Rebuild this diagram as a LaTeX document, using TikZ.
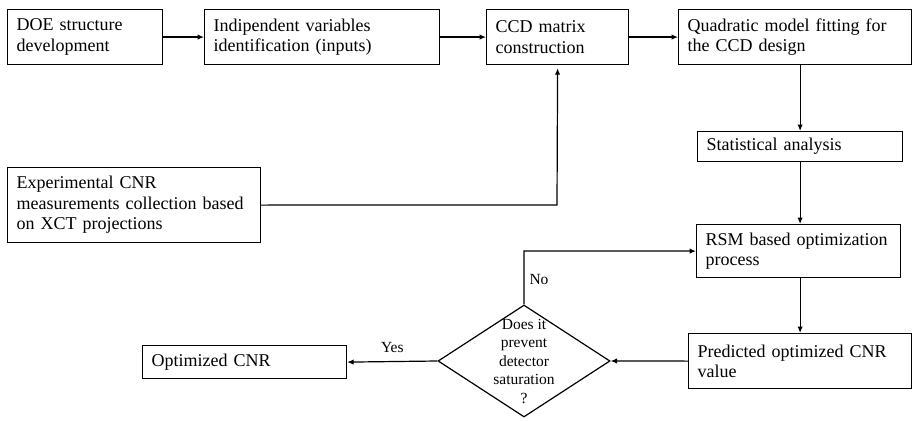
\documentclass[tikz,border=0pt]{standalone}
\usepackage{fontspec}
\setmainfont{Liberation Serif}
\usetikzlibrary{arrows.meta,shapes.geometric}
\tikzset{
  box/.style={draw, line width=1.2pt, rectangle, inner xsep=9pt, inner ysep=0pt,
    align=left, font=\fontsize{18}{20.5}\selectfont, anchor=north west},
  conn/.style={line width=1.2pt, -{Latex[length=6.5pt,width=5.5pt]}},
  lbl/.style={font=\fontsize{15.5}{18}\selectfont, inner sep=0pt}
}
\begin{document}
\begin{tikzpicture}[x=1pt,y=-1pt]
\useasboundingbox (0,0) rectangle (912,420);
\node[box, text width=137pt, minimum width=155pt, minimum height=55pt] (doe) at (7,9) {DOE structure\\development};
\node[box, text width=217pt, minimum width=235pt, minimum height=55pt] (ind) at (204,9) {Indipendent variables\\identification (inputs)};
\node[box, text width=124pt, minimum width=142pt, minimum height=55pt] (ccd) at (486,9) {CCD matrix\\construction};
\node[box, text width=215pt, minimum width=233pt, minimum height=55pt] (quad) at (678,9) {Quadratic model fitting for\\the CCD design};
\node[box, text width=187pt, minimum width=205pt, minimum height=30pt] (stat) at (697,131) {Statistical analysis};
\node[box, text width=235pt, minimum width=253pt, minimum height=75pt] (exp) at (7,167) {Experimental CNR\\measurements collection based\\on XCT projections};
\node[box, text width=186pt, minimum width=204pt, minimum height=53pt] (rsm) at (696,224) {RSM based optimization\\process};
\node[box, text width=205pt, minimum width=223pt, minimum height=55pt] (pred) at (688,333) {Predicted optimized CNR\\value};
\node[box, text width=186pt, minimum width=204pt, minimum height=33pt] (opt) at (142,345) {Optimized CNR};
\node[diamond, draw, line width=1.2pt, minimum width=172pt, minimum height=112pt, inner sep=0pt] (dec) at (524,361) {};
\node[align=center, inner sep=0pt, font=\fontsize{15.5}{18.5}\selectfont] (dectext) at (dec.center) {Does it\\prevent\\detector\\saturation\\?};
\coordinate (bend) at (557,205);
\coordinate (nocorner) at (524,251);
\draw[conn] (doe) -- (ind);
\draw[conn] (ind) -- (ccd);
\draw[conn] (ccd) -- (quad);
\draw[conn] (stat.north |- quad.south) -- (stat.north);
\draw[conn] (stat.south) -- (stat.south |- rsm.north);
\draw[conn] (rsm.south -| stat.south) -- (stat.south |- pred.north);
\draw[conn, shorten >=3pt] (exp.east) -- (bend) -- (ccd.south);
\draw[conn] (pred.west) -- (dec.east);
\draw[conn] (dec.west) -- (opt.east) node[lbl, pos=0.5, above=8pt] (yes) {Yes};
\draw[conn] (dec.north) -- (nocorner) -- (rsm.west);
\node[lbl] (no) at (539,279) {No};
\end{tikzpicture}
\end{document}
